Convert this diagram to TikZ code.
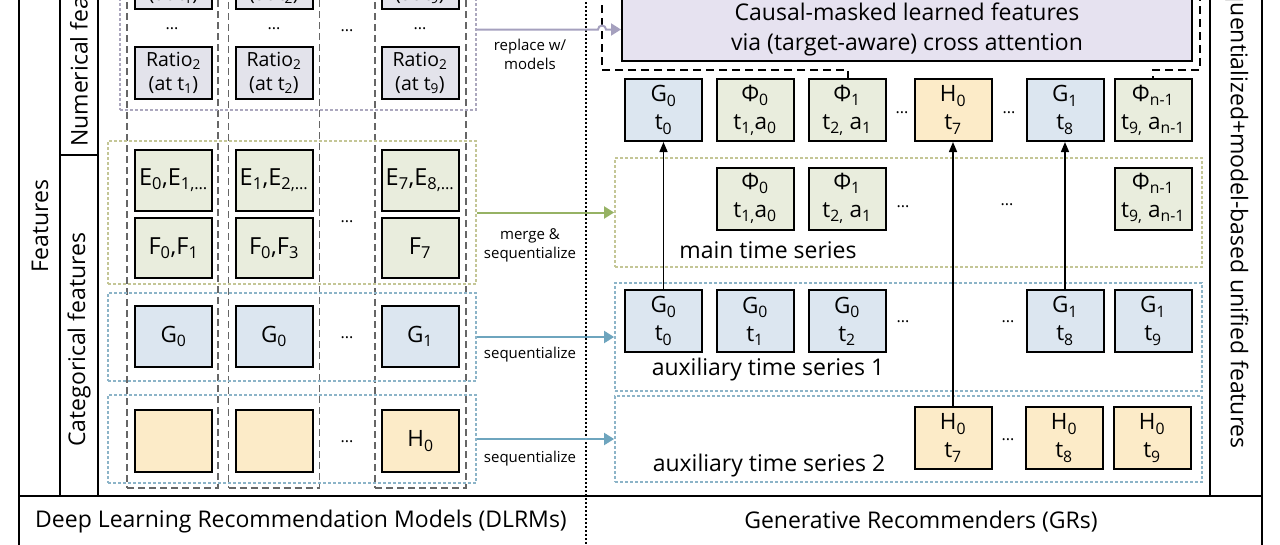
\documentclass[tikz,border=0pt]{standalone}
\usepackage{fontspec}
\setmainfont{Open Sans}
\usetikzlibrary{arrows.meta}
\newcommand{\ix}[1]{\textsubscript{#1}}
\definecolor{ratiofill}{RGB}{227,227,235}
\definecolor{efill}{RGB}{233,237,221}
\definecolor{gfill}{RGB}{220,230,240}
\definecolor{hfill}{RGB}{252,235,200}
\definecolor{causalfill}{RGB}{230,226,240}
\definecolor{numline}{RGB}{172,168,190}
\definecolor{greenline}{RGB}{196,198,150}
\definecolor{blueline}{RGB}{140,180,200}
\definecolor{numarrow}{RGB}{165,160,190}
\definecolor{greenarrow}{RGB}{150,178,100}
\definecolor{bluearrow}{RGB}{110,165,190}

\begin{document}
\begin{tikzpicture}[x=1pt,y=-1pt,
  featcell/.style={draw, line width=2, inner sep=0, align=center, minimum width=77, minimum height=62, font=\fontsize{22.5}{28}\selectfont},
  ratiocell/.style={featcell, fill=ratiofill, minimum height=52, font=\fontsize{19.5}{24}\selectfont},
  ecell/.style={featcell, fill=efill, minimum height=61, font=\fontsize{23.5}{28}\selectfont},
  phicell/.style={featcell, fill=efill},
  gcell/.style={featcell, fill=gfill},
  hcell/.style={featcell, fill=hfill},
  colframe/.style={draw=black!60, line width=1.2, dash pattern=on 7pt off 4pt, minimum width=91, minimum height=548, inner sep=0},
  grpframe/.style={line width=1.8, dash pattern=on 3pt off 2pt, inner sep=0},
  ellip/.style={font=\fontsize{16}{16}\selectfont},
  arrlabel/.style={font=\fontsize{15}{19}\selectfont, align=center},
  bigtext/.style={font=\fontsize{23}{28}\selectfont},
  feed/.style={line width=2, -{Triangle[length=10pt,width=12pt]}},
  lift/.style={line width=1.5, -{Triangle[length=10pt,width=8pt]}}
]
\clip (0,0) rectangle (1280,544);

\draw[line width=2] (19,-10) -- (19,554);
\draw[line width=2] (60,-10) -- (60,496);
\draw[line width=2] (98,-10) -- (98,496);
\draw[line width=2] (60,155) -- (98,155);
\draw[line width=2] (1210,-10) -- (1210,496);
\draw[line width=2] (1262,-10) -- (1262,554);
\draw[line width=2] (19,496) -- (1262,496);
\draw[line width=1.6, dash pattern=on 1.6pt off 2.4pt] (586,-10) -- (586,554);

\node (feat) at (40,226) [bigtext, rotate=90] {Features};
\node (numlab) at (79,147) [bigtext, rotate=90, anchor=west, inner sep=0] {Numerical features};
\node (catlab) at (79,447) [bigtext, rotate=90, anchor=west, inner sep=0] {Categorical features};
\node (unilab) at (1237,449) [bigtext, rotate=-90, anchor=east, inner sep=0] {Sequentialized+model-based unified features};

\node (col1) at (172.5,214) [colframe] {};
\node (col2) at (274,214) [colframe] {};
\node (col3) at (420.5,214) [colframe] {};

\node (numgrp) at (298,25) [grpframe, draw=numline, minimum width=356, minimum height=170] {};
\node (efgrp) at (292,212.5) [grpframe, draw=greenline, minimum width=368, minimum height=143] {};
\node (ggrp) at (292,337) [grpframe, draw=blueline, minimum width=368, minimum height=88] {};
\node (hgrp) at (292,439) [grpframe, draw=blueline, minimum width=368, minimum height=88] {};

\node (ra1) at (173.5,-17) [ratiocell] {Ratio\ix{1}\\(at t\ix{1})};
\node (ra2) at (274,-17) [ratiocell] {Ratio\ix{1}\\(at t\ix{2})};
\node (ra3) at (420,-17) [ratiocell] {Ratio\ix{1}\\(at t\ix{9})};
\node (rd1) at (172,29) [ellip] {...};
\node (rd2) at (274,29) [ellip] {...};
\node (rd3) at (420,29) [ellip] {...};
\node (rdm) at (347,31) [ellip] {...};
\node (rb1) at (173.5,73) [ratiocell] {Ratio\ix{2}\\(at t\ix{1})};
\node (rb2) at (274,73) [ratiocell] {Ratio\ix{2}\\(at t\ix{2})};
\node (rb3) at (420,73) [ratiocell] {Ratio\ix{2}\\(at t\ix{9})};

\node (e1) at (173.5,180.5) [ecell] {E\ix{0},E\ix{1,…}};
\node (e2) at (274,180.5) [ecell] {E\ix{1},E\ix{2,…}};
\node (e3) at (420,180.5) [ecell] {E\ix{7},E\ix{8,…}};
\node (f1) at (173.5,248) [ecell, minimum height=60] {F\ix{0},F\ix{1}};
\node (f2) at (274,248) [ecell, minimum height=60] {F\ix{0},F\ix{3}};
\node (f3) at (420,248) [ecell, minimum height=60] {F\ix{7}};
\node (efd) at (347,222) [ellip] {...};

\node (g1) at (173.5,336.5) [gcell, minimum height=61] {G\ix{0}};
\node (g2) at (274,336.5) [gcell, minimum height=61] {G\ix{0}};
\node (g3) at (420,336.5) [gcell, minimum height=61] {G\ix{1}};
\node (gd) at (347,338) [ellip] {...};

\node (h1) at (173.5,441) [hcell] {};
\node (h2) at (274,441) [hcell] {};
\node (h3) at (420.5,441) [hcell] {H\ix{0}};
\node (hd) at (347,442) [ellip] {...};

\draw[line width=1.5, dash pattern=on 8pt off 5pt] (848,79) -- (848,70) -- (602,70) -- (602,-20);
\draw[line width=1.5, dash pattern=on 8pt off 5pt] (1200,-20) -- (1200,70) -- (1153,70) -- (1153,79);
\node (causal) at (907,29.5) [draw, line width=2, fill=causalfill, minimum width=570, minimum height=63, align=center, font=\fontsize{23}{30}\selectfont] {Causal-masked learned features\\via (target-aware) cross attention};

\node (og0) at (663.5,110) [gcell] {G\ix{0}\\t\ix{0}};
\node (ophi0) at (755,110) [phicell] {Φ\ix{0}\\t\ix{1,}a\ix{0}};
\node (ophi1) at (847,110) [phicell] {Φ\ix{1}\\t\ix{2,} a\ix{1}};
\node (od1) at (902,113) [ellip] {...};
\node (oh0) at (953,110) [hcell] {H\ix{0}\\t\ix{7}};
\node (od2) at (1009,113) [ellip] {...};
\node (og1) at (1065,110) [gcell] {G\ix{1}\\t\ix{8}};
\node (ophin) at (1153,110) [phicell] {Φ\ix{n-1}\\t\ix{9,} a\ix{n-1}};

\node (maingrp) at (908.5,212.5) [grpframe, draw=greenline, minimum width=587, minimum height=109] {};
\node (aux1grp) at (908.5,337) [grpframe, draw=blueline, minimum width=587, minimum height=108] {};
\node (aux2grp) at (908.5,439) [grpframe, draw=blueline, minimum width=587, minimum height=86] {};

\node (mphi0) at (755,198.5) [phicell] {Φ\ix{0}\\t\ix{1,}a\ix{0}};
\node (mphi1) at (847,198.5) [phicell] {Φ\ix{1}\\t\ix{2,} a\ix{1}};
\node (md1) at (903,207) [ellip] {...};
\node (md2) at (1007,205) [ellip] {...};
\node (mphin) at (1153,198.5) [phicell] {Φ\ix{n-1}\\t\ix{9,} a\ix{n-1}};
\node (mainlab) at (768,250) [bigtext] {main time series};

\node (ag0a) at (663.5,321) [gcell] {G\ix{0}\\t\ix{0}};
\node (ag0b) at (755,321) [gcell] {G\ix{0}\\t\ix{1}};
\node (ag0c) at (847,321) [gcell] {G\ix{0}\\t\ix{2}};
\node (ad1) at (903,322) [ellip] {...};
\node (ad2) at (1008,322) [ellip] {...};
\node (ag1a) at (1065,321) [gcell] {G\ix{1}\\t\ix{8}};
\node (ag1b) at (1153,321) [gcell] {G\ix{1}\\t\ix{9}};
\node (aux1lab) at (768,370) [bigtext] {auxiliary time series 1};

\node (bh0a) at (953,438) [hcell] {H\ix{0}\\t\ix{7}};
\node (bd1) at (1008,440) [ellip] {...};
\node (bh0b) at (1064,438) [hcell] {H\ix{0}\\t\ix{8}};
\node (bh0c) at (1152,438) [hcell] {H\ix{0}\\t\ix{9}};
\node (aux2lab) at (769,466) [bigtext] {auxiliary time series 2};

\draw[feed, draw=numarrow] (numgrp.east |- causal.west) -- (598,29.5) arc (180:0:4pt) -- (causal.west);
\draw[feed, draw=greenarrow] (efgrp.east) -- (maingrp.west);
\draw[feed, draw=bluearrow] (ggrp.east) -- (aux1grp.west);
\draw[feed, draw=bluearrow] (hgrp.east) -- (aux2grp.west);
\node (replab) at (530,54) [arrlabel] {replace w/\\models};
\node (mergelab) at (530,245) [arrlabel] {merge \&\\sequentialize};
\node (seqlab1) at (530,355) [arrlabel] {sequentialize};
\node (seqlab2) at (530,459) [arrlabel] {sequentialize};

\draw[lift] (ag0a.north) -- (og0.south);
\draw[lift] (bh0a.north) -- (oh0.south);
\draw[lift] (ag1a.north) -- (og1.south);

\node (dlrm) at (301,522) [bigtext] {Deep Learning Recommendation Models (DLRMs)};
\node (gr) at (921,522) [bigtext] {Generative Recommenders (GRs)};
\end{tikzpicture}
\end{document}
